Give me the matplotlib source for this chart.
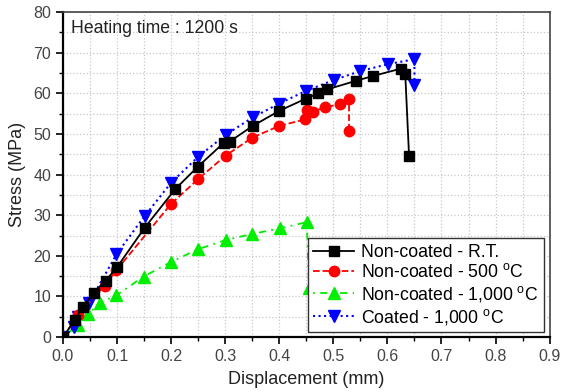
import matplotlib
matplotlib.use("Agg")
import matplotlib.pyplot as plt
from matplotlib.ticker import MultipleLocator

plt.rcParams['font.family'] = ['Liberation Sans', 'DejaVu Sans']

# Non-coated - R.T.
rt_x = [0.0, 0.022, 0.037, 0.057, 0.079, 0.10, 0.151, 0.208, 0.249, 0.298, 0.308,
        0.351, 0.400, 0.449, 0.472, 0.489, 0.542, 0.574, 0.625, 0.633, 0.640]
rt_y = [0.0, 4.2, 7.5, 10.9, 13.9, 17.2, 26.9, 36.5, 41.9, 47.9, 48.1,
        52.0, 55.7, 58.7, 60.0, 61.0, 63.1, 64.3, 66.1, 64.8, 44.7]

# Non-coated - 500 C
c500_x = [0.0, 0.028, 0.077, 0.099, 0.200, 0.250, 0.301, 0.350, 0.400, 0.448,
          0.451, 0.463, 0.484, 0.513, 0.529, 0.529]
c500_y = [0.0, 5.4, 12.7, 16.5, 32.8, 38.9, 44.7, 49.1, 52.0, 53.6,
          55.9, 55.5, 56.6, 57.3, 58.5, 50.7]

# Non-coated - 1,000 C
c1000_x = [0.0, 0.028, 0.047, 0.068, 0.099, 0.149, 0.200, 0.249, 0.301, 0.350,
           0.402, 0.451, 0.455]
c1000_y = [0.0, 3.0, 5.7, 8.4, 10.3, 14.9, 18.5, 21.6, 23.9, 25.4,
           26.8, 28.3, 12.2]

# Coated - 1,000 C
coat_x = [0.0, 0.020, 0.028, 0.048, 0.099, 0.151, 0.200, 0.250, 0.301, 0.351,
          0.400, 0.449, 0.501, 0.550, 0.601, 0.650, 0.650]
coat_y = [0.0, 2.5, 5.0, 8.3, 20.4, 29.8, 38.0, 44.4, 49.8, 54.1,
          57.5, 60.6, 63.3, 65.5, 67.2, 68.4, 62.1]

fig = plt.figure(figsize=(5.62, 3.92), dpi=100)
ax = fig.add_axes([0.112, 0.14, 0.866, 0.829])

ax.plot(rt_x, rt_y, color='black', linestyle='-', linewidth=1.3,
        marker='s', markersize=7, label='Non-coated - R.T.', zorder=5)
ax.plot(c500_x, c500_y, color='red', linestyle='--', linewidth=1.3,
        marker='o', markersize=7.5, label='Non-coated - 500 $\\mathregular{^{o}}$C', zorder=4)
ax.plot(c1000_x, c1000_y, color='#00ee00', linestyle=(0, (1, 3, 4, 3)), linewidth=1.3,
        marker='^', markersize=8.5, label='Non-coated - 1,000 $\\mathregular{^{o}}$C', zorder=3)
ax.plot(coat_x, coat_y, color='blue', linestyle=':', linewidth=1.5,
        marker='v', markersize=8.5, label='Coated - 1,000 $\\mathregular{^{o}}$C', zorder=3)

ax.set_xlim(0, 0.9)
ax.set_ylim(0, 80)
ax.xaxis.set_major_locator(MultipleLocator(0.1))
ax.xaxis.set_minor_locator(MultipleLocator(0.05))
ax.yaxis.set_major_locator(MultipleLocator(10))
ax.yaxis.set_minor_locator(MultipleLocator(5))
ax.xaxis.set_major_formatter(plt.FuncFormatter(lambda v, p: "%.1f" % v))

ax.grid(which='both', color='#c8c8c8', linestyle=':', linewidth=0.9)
ax.set_axisbelow(True)

ax.tick_params(which='both', direction='out', top=False, right=False,
               labelsize=11.5, labelcolor='#444444')
ax.tick_params(which='major', length=5, width=1.2)
ax.tick_params(which='minor', length=3, width=1.0)

for side in ['left', 'bottom']:
    ax.spines[side].set_linewidth(1.6)
for side in ['top', 'right']:
    ax.spines[side].set_linewidth(1.2)
    ax.spines[side].set_color('#444444')

ax.set_xlabel('Displacement (mm)', fontsize=13, color='#222222', labelpad=5)
ax.set_ylabel('Stress (MPa)', fontsize=13, color='#222222', labelpad=5)

ax.text(0.015, 76, 'Heating time : 1200 s', fontsize=12.7, color='#222222',
        va='center', ha='left')

leg = ax.legend(loc='lower right', bbox_to_anchor=(0.995, 0.005), fontsize=12.7,
                frameon=True, fancybox=False, edgecolor='#333333',
                handlelength=2.3, borderpad=0.3, labelspacing=0.15,
                handletextpad=0.4, borderaxespad=0.2)
leg.get_frame().set_linewidth(1.0)
leg.get_frame().set_alpha(1.0)

fig.savefig('out.png', dpi=100)
